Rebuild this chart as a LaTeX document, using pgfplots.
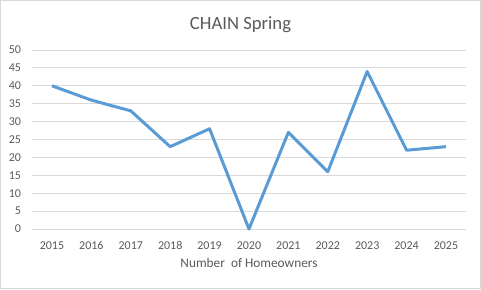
\documentclass[border=0pt]{standalone}
\usepackage{pgfplots}
\pgfplotsset{compat=1.18}
\usepackage{fontspec}
\setmainfont{Carlito}
\definecolor{txt}{HTML}{595959}
\definecolor{gridc}{HTML}{D9D9D9}
\definecolor{line}{HTML}{5B9BD5}
\begin{document}
\begin{tikzpicture}
\path[use as bounding box] (0,0) rectangle (360.75pt,216.75pt);
\draw[gridc, line width=0.75pt] (0.5pt,0.5pt) rectangle (360.25pt,216.25pt);
\node[anchor=base, text=txt, font=\fontsize{14pt}{16pt}\selectfont, inner sep=0pt] at (180.4pt,194.8pt) {CHAIN Spring};
\begin{axis}[
  at={(24.2pt,45pt)}, anchor=south west,
  scale only axis, width=325.05pt, height=134.25pt,
  xmin=-0.5, xmax=10.5, ymin=0, ymax=50,
  xtick={0,...,10},
  xticklabels={2015,2016,2017,2018,2019,2020,2021,2022,2023,2024,2025},
  ytick={0,5,...,50},
  ymajorgrids, grid style={gridc, line width=0.75pt},
  axis line style={draw=none}, tick style={draw=none},
  /pgf/number format/assume math mode=true,
  ticklabel style={font=\fontsize{9pt}{11pt}\selectfont, text=txt, inner sep=0pt},
  yticklabel style={anchor=east, xshift=-8.25pt},
  xticklabel style={anchor=base, yshift=-15pt},
  xlabel={Number\ \ of Homeowners},
  xlabel style={at={(axis description cs:0.5,0)}, anchor=base, yshift=-28.5pt, inner sep=0pt, font=\fontsize{10pt}{12pt}\selectfont, text=txt},
  clip=false,
]
\addplot[line, line width=2.25pt, line join=round, mark=none] coordinates {
(0,40) (1,36) (2,33) (3,23) (4,28) (5,0) (6,27) (7,16) (8,44) (9,22) (10,23)
};
\end{axis}
\end{tikzpicture}
\end{document}
